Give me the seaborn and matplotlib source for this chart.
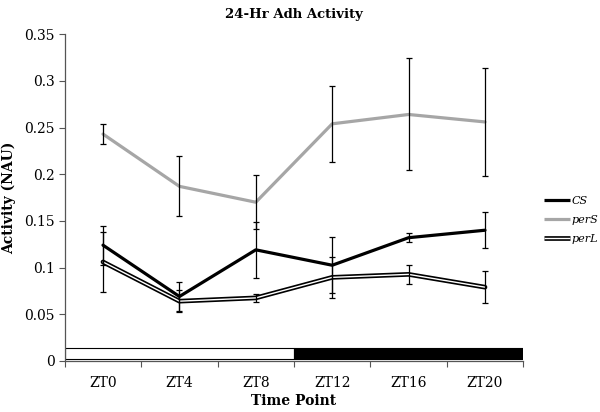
import matplotlib
matplotlib.use("Agg")
import matplotlib.pyplot as plt
import matplotlib.patheffects as pe
from matplotlib.lines import Line2D
import seaborn as sns
import pandas as pd
import numpy as np

# ---- data ----
time_points = ["ZT0", "ZT4", "ZT8", "ZT12", "ZT16", "ZT20"]
cs_vals = [0.124, 0.069, 0.119, 0.1025, 0.132, 0.140]
cs_err = [0.021, 0.016, 0.030, 0.030, 0.0045, 0.019]
pers_vals = [0.243, 0.187, 0.170, 0.254, 0.264, 0.256]
pers_err = [0.0105, 0.032, 0.029, 0.0405, 0.060, 0.0575]
perl_vals = [0.106, 0.064, 0.0675, 0.0895, 0.0927, 0.079]
perl_err = [0.032, 0.012, 0.004, 0.022, 0.0105, 0.017]
series_names = ["CS", "perS", "perL"]
phase_labels = ["light", "dark"]
phase_start = [-0.5, 2.5]
phase_len = [3, 3]
phase_colors = ["white", "black"]

sns.set_theme(style="white")
plt.rcParams["font.family"] = ["DejaVu Serif"]
plt.rcParams["text.color"] = "black"
plt.rcParams["axes.labelcolor"] = "black"

fig = plt.figure(figsize=(6, 4.12), dpi=100)
ax = fig.add_axes([0.108, 0.124, 0.764, 0.793])

x = np.arange(len(time_points))
df = pd.DataFrame({"x": np.tile(x, 3),
                   "val": cs_vals + pers_vals + perl_vals,
                   "series": np.repeat(series_names, len(x))})

colors = {"CS": "black", "perS": "#a6a6a6", "perL": "white"}
widths = {"CS": 2.3, "perS": 2.3, "perL": 1.0}
for name in series_names:
    sub = df[df.series == name]
    sns.lineplot(data=sub, x="x", y="val", color=colors[name], lw=widths[name],
                 ax=ax, legend=False, zorder=3)
perl_line = ax.lines[-1]
perl_line.set_path_effects([pe.Stroke(linewidth=3.4, foreground="black"), pe.Normal()])

for vals, errs in [(cs_vals, cs_err), (pers_vals, pers_err), (perl_vals, perl_err)]:
    ax.errorbar(x, vals, yerr=errs, fmt="none", ecolor="black", elinewidth=0.9,
                capsize=2.5, capthick=0.9, zorder=4)

# light/dark bar
ax.barh([0.008, 0.008], phase_len, left=phase_start, height=0.0115,
        color=phase_colors, edgecolor="black", linewidth=0.8, zorder=2)

ax.set_xlim(-0.5, 5.5)
ax.set_ylim(0, 0.35)
ax.set_yticks(np.arange(0, 0.351, 0.05))
ax.set_yticklabels(["0", "0.05", "0.1", "0.15", "0.2", "0.25", "0.3", "0.35"])
ax.set_xticks(x)
ax.set_xticklabels(time_points)
ax.set_xticks(np.arange(-0.5, 5.6, 1), minor=True)
ax.tick_params(axis="x", which="major", length=0, pad=11, labelsize=10, labelcolor="black")
ax.tick_params(axis="x", which="minor", length=4, width=0.8, color="#555555", direction="out", bottom=True)
ax.tick_params(axis="y", length=4, width=0.8, color="#555555", direction="out", left=True,
               labelsize=10, pad=3, labelcolor="black")

for s in ["top", "right"]:
    ax.spines[s].set_visible(False)
for s in ["left", "bottom"]:
    ax.spines[s].set_color("#555555")
    ax.spines[s].set_linewidth(0.9)

ax.set_xlabel("Time Point", fontweight="bold", fontsize=10, labelpad=3)
ax.set_ylabel("Activity (NAU)", fontweight="bold", fontsize=10, labelpad=6)
ax.set_title("24-Hr Adh Activity", fontweight="bold", fontsize=9.5, pad=12)

handles = [Line2D([], [], color="black", lw=2.3, solid_capstyle="butt"),
           Line2D([], [], color="#a6a6a6", lw=2.3, solid_capstyle="butt"),
           Line2D([], [], color="white", lw=1.0, solid_capstyle="butt",
                  path_effects=[pe.Stroke(linewidth=3.4, foreground="black", capstyle="butt"), pe.Normal()])]
leg = fig.legend(handles, series_names, loc="center left", bbox_to_anchor=(0.9, 0.466),
                 frameon=False, fontsize=8, handlelength=2.3, handletextpad=0.15,
                 labelspacing=0.8, borderaxespad=0)
for t in leg.get_texts():
    t.set_fontstyle("italic")

fig.savefig("out.png", dpi=100)
